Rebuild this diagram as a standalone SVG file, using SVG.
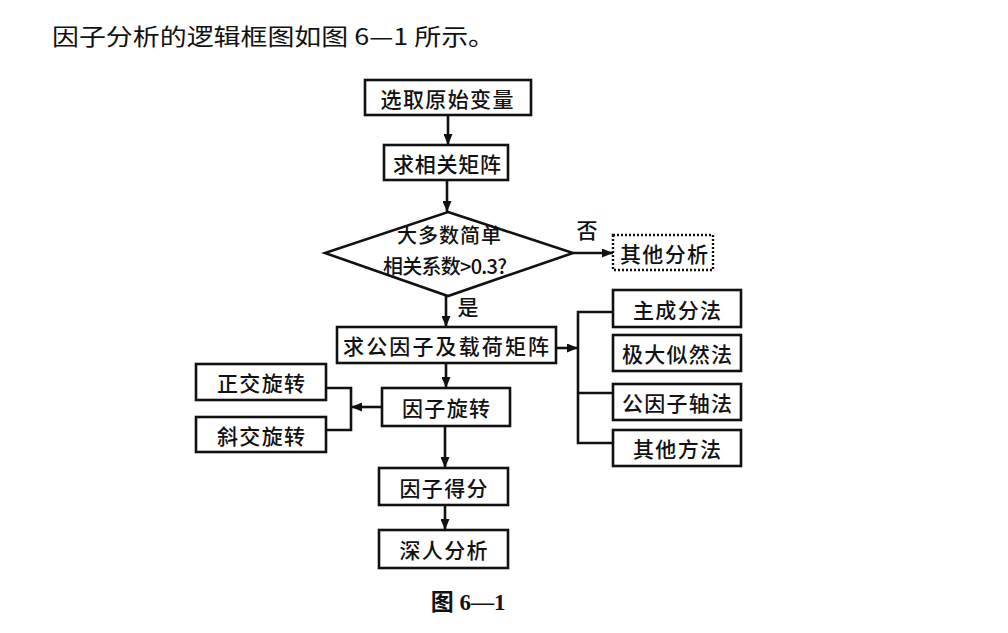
<svg xmlns="http://www.w3.org/2000/svg" width="1008" height="633" viewBox="0 0 1008 633">
<defs>
<marker id="arr" markerUnits="userSpaceOnUse" markerWidth="11" markerHeight="9" refX="11" refY="4.5" orient="auto">
<path d="M0,0 L11,4.5 L0,9 z" fill="#111"/>
</marker>
<style>
.box{fill:#fff;stroke:#111;stroke-width:2.6}
.dot{fill:#fff;stroke:#111;stroke-width:2.4;stroke-dasharray:2 2}
.t{font-family:"Noto Sans CJK SC","Noto Sans",sans-serif;font-size:21px;font-weight:500;fill:#111;text-anchor:middle;dominant-baseline:central}
.d{font-size:20px}
.ln{fill:none;stroke:#111;stroke-width:2.6}
.ar{fill:none;stroke:#111;stroke-width:2.6;marker-end:url(#arr)}
</style>
</defs>
<rect width="1008" height="633" fill="#fff"/>
<text x="52" y="45" font-family="'Noto Sans CJK SC',sans-serif" font-size="23" fill="#111" textLength="443" lengthAdjust="spacingAndGlyphs">因子分析的逻辑框图如图 6—1 所示。</text>

<g id="connectors">
<line class="ar" x1="448" y1="115" x2="448" y2="145"/>
<line class="ar" x1="447" y1="180" x2="447" y2="212"/>
<line class="ar" x1="573" y1="253" x2="613" y2="253"/>
<line class="ar" x1="446" y1="296" x2="446" y2="327"/>
<line class="ar" x1="556" y1="348" x2="578" y2="348"/>
<path class="ln" d="M613,312 H578 V443 H613 M578,393 H613"/>
<line class="ar" x1="446" y1="363" x2="446" y2="388"/>
<line class="ar" x1="382" y1="407" x2="351" y2="407"/>
<path class="ln" d="M326,388 H351 V430 H326"/>
<line class="ar" x1="445" y1="426" x2="445" y2="468"/>
<line class="ar" x1="445" y1="505" x2="445" y2="530"/>
<text class="t" x="587" y="229">否</text>
<text class="t" x="468" y="306">是</text>
</g>

<g id="n1"><rect class="box" x="365" y="80" width="166" height="35"/><text class="t" x="447" y="97.5" textLength="133">选取原始变量</text></g>
<g id="n2"><rect class="box" x="384" y="145" width="124" height="35"/><text class="t" x="447" y="162.5" textLength="108">求相关矩阵</text></g>
<g id="n3"><polygon class="box" points="448,212 573,253 448,296 325,253"/>
<text class="t d" x="449" y="234" textLength="104">大多数简单</text>
<text class="t d" x="445" y="265" textLength="124">相关系数&gt;0.3?</text></g>
<g id="n4"><rect class="dot" x="613" y="235" width="100" height="35"/><text class="t" x="664" y="252.5" textLength="88">其他分析</text></g>
<g id="n5"><rect class="box" x="337" y="327" width="219" height="36"/><text class="t" x="446" y="345" textLength="206">求公因子及载荷矩阵</text></g>
<g id="n6"><rect class="box" x="613" y="290" width="128" height="37"/><text class="t" x="677" y="308.5" textLength="88">主成分法</text></g>
<g id="n7"><rect class="box" x="613" y="335" width="128" height="36"/><text class="t" x="677" y="353" textLength="110">极大似然法</text></g>
<g id="n8"><rect class="box" x="613" y="384" width="128" height="36"/><text class="t" x="677" y="402" textLength="110">公因子轴法</text></g>
<g id="n9"><rect class="box" x="613" y="430" width="128" height="36"/><text class="t" x="677" y="448" textLength="88">其他方法</text></g>
<g id="n10"><rect class="box" x="382" y="388" width="128" height="38"/><text class="t" x="446" y="407" textLength="88">因子旋转</text></g>
<g id="n11"><rect class="box" x="196" y="364" width="130" height="36"/><text class="t" x="261" y="382" textLength="88">正交旋转</text></g>
<g id="n12"><rect class="box" x="196" y="417" width="130" height="35"/><text class="t" x="261" y="434.5" textLength="88">斜交旋转</text></g>
<g id="n13"><rect class="box" x="379" y="468" width="129" height="37"/><text class="t" x="443.5" y="486.5" textLength="88">因子得分</text></g>
<g id="n14"><rect class="box" x="379" y="530" width="129" height="38"/><text class="t" x="443.5" y="549" textLength="88">深人分析</text></g>

<text x="468" y="610" text-anchor="middle" font-family="'Liberation Serif','Noto Sans CJK SC',serif" font-weight="bold" font-size="23" fill="#111">图 6—1</text>
</svg>
